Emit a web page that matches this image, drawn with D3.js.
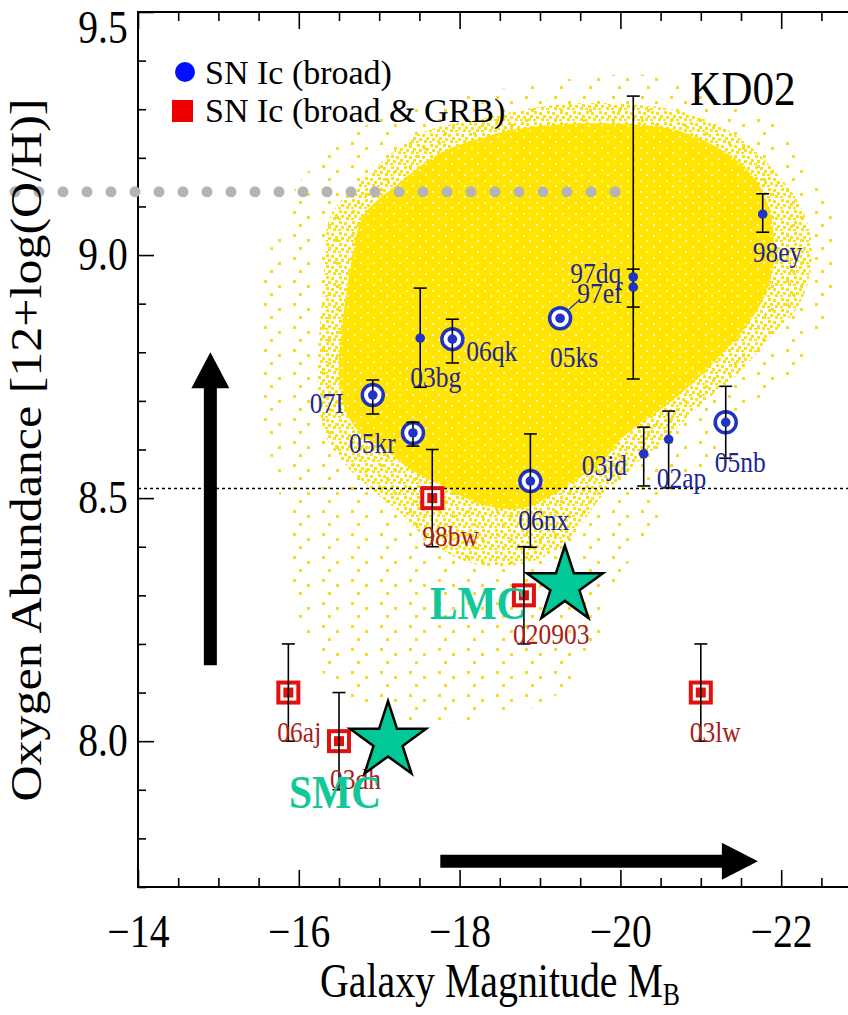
<!DOCTYPE html>
<html>
<head>
<meta charset="utf-8">
<script src="https://cdn.jsdelivr.net/npm/d3@7"></script>
<style>
body { margin: 0; background: #fff; }
svg { display: block; font-family: "Liberation Serif", "Times New Roman", serif; }
</style>
</head>
<body>
<div id="chart"></div>
<script>
const width = 848;
const height = 1015;

// SN Ic (broad)
const broadNames = ["98ey", "97dq", "97ef", "03bg", "06qk", "05ks", "07I", "05kr", "03jd", "02ap", "05nb", "06nx"];
const broadMag = [-21.77, -20.16, -20.16, -17.51, -17.91, -19.25, -16.92, -17.42, -20.29, -20.60, -21.31, -18.88];
const broadOH = [9.084, 8.955, 8.934, 8.829, 8.827, 8.870, 8.712, 8.634, 8.591, 8.621, 8.656, 8.535];
const broadHi = [9.126, 9.327, 8.971, 8.932, 8.868, 8.870, 8.743, 8.656, 8.646, 8.679, 8.730, 8.632];
const broadLo = [9.047, 8.745, 8.893, 8.728, 8.778, 8.870, 8.673, 8.607, 8.525, 8.521, 8.582, 8.399];
const broadRing = [false, false, false, false, true, true, true, true, false, false, true, true];

// SN Ic (broad & GRB)
const grbNames = ["98bw", "020903", "06aj", "03dh", "03lw"];
const grbMag = [-17.66, -18.80, -15.87, -16.50, -21.00];
const grbOH = [8.50, 8.30, 8.10, 8.00, 8.10];
const grbHi = [8.60, 8.40, 8.20, 8.10, 8.20];
const grbLo = [8.40, 8.20, 8.00, 7.90, 8.00];

// 大小マゼラン雲
const mcNames = ["LMC", "SMC"];
const mcMag = [-19.31, -17.11];
const mcOH = [8.32, 8.00];

// 参照線
const solarOH = 8.52;
const kd02Top = 9.13;
const kd02From = -12.47;
const kd02To = -19.96;

// 矢印
const upArrow = [[-14.9, 8.156], [-14.9, 8.80]];
const rightArrow = [[-17.76, 7.753], [-21.71, 7.753]];

// SDSS 銀河の分布 (輪郭)
const cloudCore = [[-16.80, 9.08], [-17.26, 9.15], [-17.76, 9.21], [-18.25, 9.24], [-18.75, 9.26], [-19.37, 9.27], [-20.00, 9.27], [-20.62, 9.26], [-21.11, 9.23], [-21.55, 9.18], [-21.80, 9.12], [-21.90, 9.05], [-21.90, 8.98], [-21.78, 8.91], [-21.55, 8.85], [-21.28, 8.80], [-20.99, 8.75], [-20.64, 8.70], [-20.31, 8.66], [-20.00, 8.62], [-19.75, 8.57], [-19.47, 8.54], [-19.19, 8.51], [-18.81, 8.48], [-18.44, 8.48], [-18.07, 8.50], [-17.73, 8.53], [-17.38, 8.56], [-17.07, 8.60], [-16.79, 8.63], [-16.58, 8.68], [-16.50, 8.75], [-16.52, 8.83], [-16.58, 8.91], [-16.66, 8.99]];
const cloudHalo = [[-16.39, 9.08], [-16.89, 9.17], [-17.51, 9.25], [-18.25, 9.28], [-19.25, 9.31], [-20.12, 9.31], [-20.87, 9.29], [-21.49, 9.24], [-21.99, 9.16], [-22.30, 9.08], [-22.38, 8.99], [-22.23, 8.90], [-21.86, 8.83], [-21.43, 8.75], [-20.99, 8.69], [-20.55, 8.62], [-20.12, 8.56], [-19.75, 8.50], [-19.44, 8.43], [-19.06, 8.38], [-18.56, 8.36], [-18.07, 8.37], [-17.63, 8.41], [-17.26, 8.47], [-16.89, 8.52], [-16.57, 8.57], [-16.33, 8.63], [-16.24, 8.71], [-16.24, 8.80], [-16.29, 8.91], [-16.33, 9.00]];
const cloudSparse = [[-15.64, 9.01], [-16.01, 9.15], [-16.76, 9.26], [-17.88, 9.32], [-19.25, 9.36], [-20.37, 9.37], [-21.24, 9.33], [-21.99, 9.26], [-22.42, 9.16], [-22.67, 9.05], [-22.67, 8.93], [-22.42, 8.83], [-21.99, 8.72], [-21.55, 8.66], [-20.99, 8.56], [-20.49, 8.45], [-20.00, 8.34], [-19.75, 8.21], [-19.25, 8.10], [-18.50, 8.05], [-17.51, 8.04], [-16.76, 8.07], [-16.26, 8.15], [-16.01, 8.25], [-15.89, 8.37], [-15.77, 8.50], [-15.58, 8.64], [-15.46, 8.78], [-15.46, 8.91]];

// 目盛り
const xMajor = [-14, -16, -18, -20, -22];
const yMajor = [8.0, 8.5, 9.0, 9.5];

// ラベルの位置 (点からのずれ)
const labelOffset = {
    "98ey": [-10, 48], "97dq": [-63, 6], "97ef": [-56, 16], "03bg": [-10, 49],
    "06qk": [14, 22], "05ks": [-10, 49], "07I": [-63, 18], "05kr": [-64, 20],
    "03jd": [-62, 21], "02ap": [-12, 49], "05nb": [-11, 50], "06nx": [-12, 49],
    "98bw": [-10, 48], "020903": [-11, 49], "06aj": [-11, 49], "03dh": [-9, 48], "03lw": [-11, 49]
};

const blue = "#1f33c4";
const red = "#e41010";
const green = "#00c896";

const svg = d3.select("#chart")
    .append("svg")
    .attr("width", width)
    .attr("height", height);

const x = d3.scaleLinear().domain([-14, -23]).range([138, 861.6]);
const y = d3.scaleLinear().domain([7.7, 9.5]).range([887, 12]);

const defs = svg.append("defs");
defs.append("clipPath").attr("id", "plot")
    .append("rect")
    .attr("x", x(-14)).attr("y", y(9.5))
    .attr("width", x(-23) - x(-14)).attr("height", y(7.7) - y(9.5));

// 点描パターン
function addPattern(id, w, h, bg, dots, color, size) {
    const p = defs.append("pattern")
        .attr("id", id)
        .attr("patternUnits", "userSpaceOnUse")
        .attr("width", w).attr("height", h);
    if (bg) {
        p.append("rect").attr("width", w).attr("height", h).attr("fill", bg);
    }
    dots.forEach(function (d) {
        p.append("rect")
            .attr("x", d[0]).attr("y", d[1])
            .attr("width", size).attr("height", size)
            .attr("fill", color);
    });
}
addPattern("sparse", 29, 23, null, [[3, 4], [17, 9], [9, 17]], "#f5dc2c", 3);
addPattern("halo", 13, 11, null, [[1, 1], [6, 2], [10, 5], [3, 6], [8, 8], [0, 9]], "#fbe10e", 3);
addPattern("core", 13, 11, "#ffe500", [[3, 4], [9, 9]], "#fff6b0", 2);

const cloudLine = d3.line()
    .x(function (d) { return x(d[0]); })
    .y(function (d) { return y(d[1]); })
    .curve(d3.curveCatmullRomClosed);

const cloud = svg.append("g").attr("clip-path", "url(#plot)");
cloud.append("path").attr("d", cloudLine(cloudSparse)).attr("fill", "url(#sparse)");
cloud.append("path").attr("d", cloudLine(cloudHalo)).attr("fill", "url(#halo)");
cloud.append("path").attr("d", cloudLine(cloudCore)).attr("fill", "url(#core)");

// 軸
function styleAxis(g) {
    g.select(".domain").remove();
    g.selectAll("line").attr("stroke", "#000").attr("stroke-width", 1.6);
}
const xMinor = d3.range(-14.5, -23, -0.5).filter(function (v) { return xMajor.indexOf(v) < 0; });
const yMinor = d3.range(77, 95, 1).map(function (v) { return v / 10; }).filter(function (v) { return yMajor.indexOf(v) < 0; });

svg.append("g").attr("transform", `translate(0,${y(7.7)})`)
    .call(d3.axisBottom(x).tickValues(xMinor).tickSize(-9).tickFormat("")).call(styleAxis);
svg.append("g").attr("transform", `translate(0,${y(9.5)})`)
    .call(d3.axisTop(x).tickValues(xMinor).tickSize(-9).tickFormat("")).call(styleAxis);
svg.append("g").attr("transform", `translate(0,${y(9.5)})`)
    .call(d3.axisTop(x).tickValues(xMajor).tickSize(-17).tickFormat("")).call(styleAxis);
svg.append("g").attr("transform", `translate(${x(-14)},0)`)
    .call(d3.axisLeft(y).tickValues(yMinor).tickSize(-8).tickFormat("")).call(styleAxis);

const xAx = svg.append("g").attr("transform", `translate(0,${y(7.7)})`)
    .call(d3.axisBottom(x).tickValues(xMajor).tickSize(-17).tickPadding(27)
        .tickFormat(function (d) { return "\u2212" + Math.abs(d); }))
    .call(styleAxis);
xAx.selectAll("text")
    .attr("font-family", "Liberation Serif")
    .attr("font-size", 46)
    .attr("fill", "#000")
    .attr("transform", "scale(0.86,1)");

const yAx = svg.append("g").attr("transform", `translate(${x(-14)},0)`)
    .call(d3.axisLeft(y).tickValues(yMajor).tickSize(-16).tickPadding(12)
        .tickFormat(d3.format(".1f")))
    .call(styleAxis);
yAx.selectAll("text")
    .attr("font-family", "Liberation Serif")
    .attr("font-size", 46)
    .attr("fill", "#000")
    .attr("transform", function (d) {
        return d === 9.5 ? "translate(0,16) scale(0.86,1)" : "scale(0.86,1)";
    });

// 枠
svg.append("rect")
    .attr("x", x(-14)).attr("y", y(9.5))
    .attr("width", x(-23) - x(-14)).attr("height", y(7.7) - y(9.5))
    .attr("fill", "none").attr("stroke", "#000").attr("stroke-width", 2);

// 太陽の酸素量
svg.append("line")
    .attr("x1", x(-14)).attr("x2", x(-23))
    .attr("y1", y(solarOH)).attr("y2", y(solarOH))
    .attr("stroke", "#000").attr("stroke-width", 1.5)
    .attr("stroke-dasharray", "3,3");

// KD02 の上限
svg.append("line")
    .attr("x1", x(kd02From)).attr("x2", x(kd02To))
    .attr("y1", y(kd02Top)).attr("y2", y(kd02Top))
    .attr("stroke", "#b4b4b4").attr("stroke-width", 11)
    .attr("stroke-linecap", "round")
    .attr("stroke-dasharray", "0,24");

// 誤差棒
function errorBars(mag, lo, hi) {
    const g = svg.append("g").attr("stroke", "#000").attr("stroke-width", 1.6);
    mag.forEach(function (m, i) {
        if (lo[i] === hi[i]) return;
        const cx = x(m);
        g.append("line").attr("x1", cx).attr("x2", cx).attr("y1", y(lo[i])).attr("y2", y(hi[i]));
        g.append("line").attr("x1", cx - 6.5).attr("x2", cx + 6.5).attr("y1", y(lo[i])).attr("y2", y(lo[i]));
        g.append("line").attr("x1", cx - 6.5).attr("x2", cx + 6.5).attr("y1", y(hi[i])).attr("y2", y(hi[i]));
    });
}

// 点のラベル
function pointLabels(names, mag, oh, color) {
    svg.append("g").selectAll("text")
        .data(names)
        .enter()
        .append("text")
        .attr("transform", function (d, i) {
            const off = labelOffset[d];
            return `translate(${x(mag[i]) + off[0]},${y(oh[i]) + off[1]}) scale(0.85,1)`;
        })
        .attr("font-size", 30)
        .attr("fill", color)
        .text(function (d) { return d; });
}

// SN Ic (broad)
broadMag.forEach(function (m, i) {
    if (!broadRing[i]) return;
    svg.append("circle")
        .attr("cx", x(m)).attr("cy", y(broadOH[i])).attr("r", 10.5)
        .attr("fill", "#fff").attr("stroke", blue).attr("stroke-width", 3.5);
});
errorBars(broadMag, broadLo, broadHi);
svg.append("g").selectAll("circle")
    .data(broadMag)
    .enter()
    .append("circle")
    .attr("cx", function (d) { return x(d); })
    .attr("cy", function (d, i) { return y(broadOH[i]); })
    .attr("r", 4.8)
    .attr("fill", blue);

// 05ks → 97ef の引き出し線
svg.append("line")
    .attr("x1", x(broadMag[5]) + 9).attr("y1", y(broadOH[5]) - 9)
    .attr("x2", x(broadMag[5]) + 20).attr("y2", y(broadOH[5]) - 19)
    .attr("stroke", blue).attr("stroke-width", 1.3);

pointLabels(broadNames, broadMag, broadOH, "#1c2696");

// SN Ic (broad & GRB)
const grbG = svg.append("g");
grbMag.forEach(function (m, i) {
    const cx = x(m);
    const cy = y(grbOH[i]);
    grbG.append("rect")
        .attr("x", cx - 10).attr("y", cy - 10).attr("width", 20).attr("height", 20)
        .attr("fill", "#fff").attr("stroke", red).attr("stroke-width", 4);
    grbG.append("rect")
        .attr("x", cx - 5).attr("y", cy - 5).attr("width", 10).attr("height", 10)
        .attr("fill", red);
});
errorBars(grbMag, grbLo, grbHi);
pointLabels(grbNames, grbMag, grbOH, "#a81c1c");

// 星印
function starPath(R) {
    const pts = [];
    for (let k = 0; k < 10; k++) {
        const r = k % 2 === 0 ? R : R * 0.382;
        const a = -Math.PI / 2 + k * Math.PI / 5;
        pts.push([r * Math.cos(a), r * Math.sin(a)]);
    }
    return "M" + pts.map(function (p) { return p.join(","); }).join("L") + "Z";
}
svg.append("g").selectAll("path")
    .data(mcMag)
    .enter()
    .append("path")
    .attr("transform", function (d, i) { return `translate(${x(d)},${y(mcOH[i])})`; })
    .attr("d", starPath(40))
    .attr("fill", green)
    .attr("stroke", "#000")
    .attr("stroke-width", 2.5)
    .attr("stroke-linejoin", "miter");

const mcLabelOffset = [[-135, 33], [-99, 67]];
svg.append("g").selectAll("text")
    .data(mcNames)
    .enter()
    .append("text")
    .attr("transform", function (d, i) {
        return `translate(${x(mcMag[i]) + mcLabelOffset[i][0]},${y(mcOH[i]) + mcLabelOffset[i][1]}) scale(0.9,1)`;
    })
    .attr("font-size", 46)
    .attr("font-weight", "bold")
    .attr("fill", "#12c898")
    .text(function (d) { return d; });

// 矢印
function arrow(p0, p1, shaft, headW, headL) {
    const ax = x(p0[0]), ay = y(p0[1]);
    const bx = x(p1[0]), by = y(p1[1]);
    const len = Math.hypot(bx - ax, by - ay);
    const ux = (bx - ax) / len, uy = (by - ay) / len;
    const nx = -uy, ny = ux;
    const hx = bx - ux * headL, hy = by - uy * headL;
    const pts = [
        [ax + nx * shaft / 2, ay + ny * shaft / 2],
        [hx + nx * shaft / 2, hy + ny * shaft / 2],
        [hx + nx * headW / 2, hy + ny * headW / 2],
        [bx, by],
        [hx - nx * headW / 2, hy - ny * headW / 2],
        [hx - nx * shaft / 2, hy - ny * shaft / 2],
        [ax - nx * shaft / 2, ay - ny * shaft / 2]
    ];
    svg.append("path")
        .attr("d", "M" + pts.map(function (p) { return p.join(","); }).join("L") + "Z")
        .attr("fill", "#000");
}
arrow(upArrow[0], upArrow[1], 13, 38, 36);
arrow(rightArrow[0], rightArrow[1], 13, 37, 36);

// 凡例
const legend = svg.append("g");
legend.append("circle").attr("cx", 185).attr("cy", 72).attr("r", 10).attr("fill", "#0010ff");
legend.append("rect").attr("x", 172).attr("y", 100).attr("width", 21).attr("height", 22).attr("fill", "#ee0000");
legend.append("text").attr("x", 205).attr("y", 84).attr("font-size", 34).text("SN Ic (broad)");
legend.append("text").attr("x", 205).attr("y", 122).attr("font-size", 34).text("SN Ic (broad & GRB)");

svg.append("text")
    .attr("transform", "translate(690,105) scale(0.9,1)")
    .attr("font-size", 48)
    .text("KD02");

// 軸タイトル
const xTitle = svg.append("text")
    .attr("transform", "translate(500,997) scale(0.83,1)")
    .attr("text-anchor", "middle")
    .attr("font-size", 48);
xTitle.append("tspan").text("Galaxy Magnitude M");
xTitle.append("tspan").attr("font-size", 31).attr("dy", 8).text("B");

svg.append("text")
    .attr("transform", "translate(41,450) rotate(-90) scale(1,0.87)")
    .attr("text-anchor", "middle")
    .attr("font-size", 50)
    .text("Oxygen Abundance [12+log(O/H)]");
</script>
</body>
</html>
